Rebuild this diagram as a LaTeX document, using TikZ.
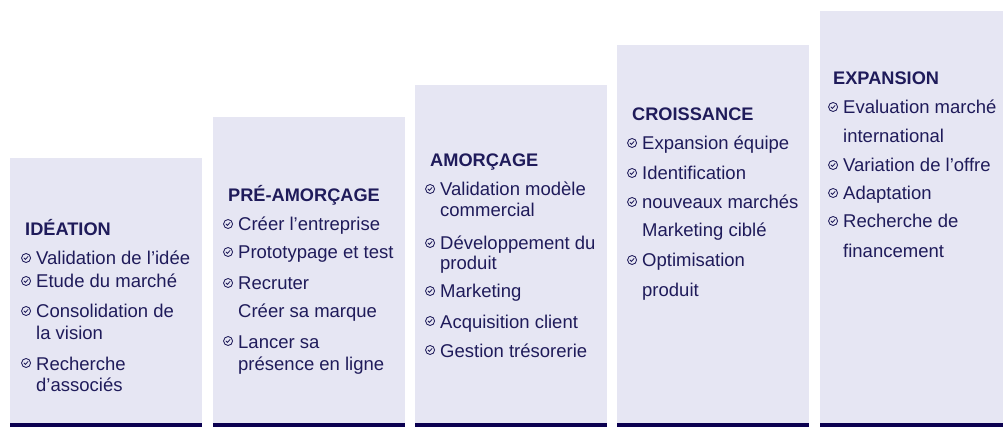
\documentclass[tikz,border=0pt]{standalone}
\usepackage{fontspec}
\setmainfont{Liberation Sans}
\definecolor{fond}{HTML}{E6E6F3}
\definecolor{barre}{HTML}{0B0050}
\definecolor{texte}{HTML}{1F1B5A}
\newcommand{\corps}{\fontsize{18.5}{21}\selectfont}
\newcommand{\gros}{\fontsize{18.2}{21}\selectfont\bfseries}
\tikzset{
  coche/.style = {circle, draw = texte, line width = 0.85pt, minimum size = 9pt, inner sep = 0pt,
    path picture = {\draw[texte, line width = 0.85pt] ([xshift = -2.2pt, yshift = 0.2pt]path picture bounding box.center) -- ++(1.5pt, -1.6pt) -- ++(2.8pt, 3pt);}},
  ligne/.style = {anchor = base west, inner sep = 0pt, text height = 14pt, text depth = 0pt, font = \corps, text = texte},
  puce/.style = {ligne, label = {[coche, label distance = 5pt]west:{}}},
  titre/.style = {anchor = base west, inner sep = 0pt, font = \gros, text = texte}
}
\begin{document}
\begin{tikzpicture}[x = 1pt, y = -1pt]
		\useasboundingbox (0, 0) rectangle (1003, 427);
		\fill[fond] (10, 158) rectangle (202, 427);
		\fill[fond] (213, 117) rectangle (405, 427);
		\fill[fond] (415, 85) rectangle (607, 427);
		\fill[fond] (617, 45) rectangle (809, 427);
		\fill[fond] (820, 11) rectangle (1003, 427);
		\fill[barre] (10, 423) rectangle (202, 427);
		\fill[barre] (213, 423) rectangle (405, 427);
		\fill[barre] (415, 423) rectangle (607, 427);
		\fill[barre] (617, 423) rectangle (809, 427);
		\fill[barre] (820, 423) rectangle (1003, 427);
		%%%%%%%%%
		\node[titre] (t1) at (25, 236) {IDÉATION};
		\node[puce] (i1a) at (36, 265) {Validation de l’idée};
		\node[puce] (i1b) at (36, 288) {Etude du marché};
		\node[puce] (i1c) at (36, 318) {Consolidation de};
		\node[ligne] (i1d) at (36, 339) {la vision};
		\node[puce] (i1e) at (36, 370) {Recherche};
		\node[ligne] (i1f) at (36, 391) {d’associés};
		%%%%%%%%%
		\node[titre] (t2) at (228, 202) {PRÉ-AMORÇAGE};
		\node[puce] (i2a) at (238, 231) {Créer l’entreprise};
		\node[puce] (i2b) at (238, 259) {Prototypage et test};
		\node[puce] (i2c) at (238, 290) {Recruter};
		\node[ligne] (i2d) at (238, 318) {Créer sa marque};
		\node[puce] (i2e) at (238, 348) {Lancer sa};
		\node[ligne] (i2f) at (238, 370) {présence en ligne};
		%%%%%%%%%
		\node[titre] (t3) at (430, 167) {AMORÇAGE};
		\node[puce] (i3a) at (440, 196) {Validation modèle};
		\node[ligne] (i3b) at (440, 217) {commercial};
		\node[puce] (i3c) at (440, 250) {Développement du};
		\node[ligne] (i3d) at (440, 270) {produit};
		\node[puce] (i3e) at (440, 298) {Marketing};
		\node[puce] (i3f) at (440, 328) {Acquisition client};
		\node[puce] (i3g) at (440, 357) {Gestion trésorerie};
		%%%%%%%%%
		\node[titre] (t4) at (632, 121) {CROISSANCE};
		\node[puce] (i4a) at (642, 150) {Expansion équipe};
		\node[puce] (i4b) at (642, 180) {Identification};
		\node[puce] (i4c) at (642, 209) {nouveaux marchés};
		\node[ligne] (i4d) at (642, 237) {Marketing ciblé};
		\node[puce] (i4e) at (642, 267) {Optimisation};
		\node[ligne] (i4f) at (642, 297) {produit};
		%%%%%%%%%
		\node[titre] (t5) at (833, 85) {EXPANSION};
		\node[puce] (i5a) at (843, 114) {Evaluation marché};
		\node[ligne] (i5b) at (843, 143) {international};
		\node[puce] (i5c) at (843, 172) {Variation de l’offre};
		\node[puce] (i5d) at (843, 200) {Adaptation};
		\node[puce] (i5e) at (843, 228) {Recherche de};
		\node[ligne] (i5f) at (843, 258) {financement};
	\end{tikzpicture}
\end{document}
